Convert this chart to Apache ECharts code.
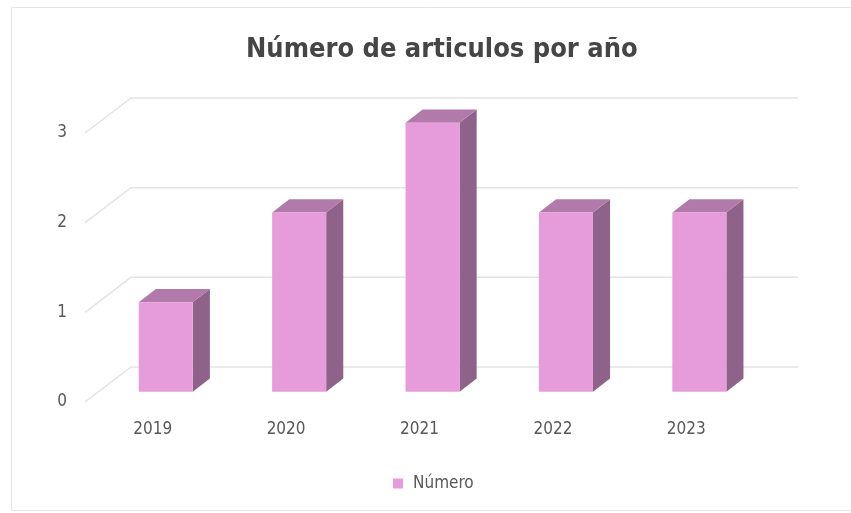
<!DOCTYPE html>
<html>
<head>
<meta charset="utf-8">
<script src="https://cdn.jsdelivr.net/npm/echarts@6/dist/echarts.min.js"></script>
<style>html,body{margin:0;padding:0;background:#fff}#c{width:851px;height:513px}</style>
</head>
<body>
<div id="c"></div>
<script>
const categories = ['2019', '2020', '2021', '2022', '2023'];
const values = [1, 2, 3, 2, 2];
const yTicks = [0, 1, 2, 3];
const seriesName = 'Número';

const DX = 45, DY = -35;          // depth of the 3D floor
const F1 = 0.29, F2 = 0.67;       // bar depth range (fraction of floor depth)
const BAR_W = 0.405;              // bar width as a fraction of band
const cFront = '#E69CDB', cTop = '#B27AAA', cSide = '#8E6289';
const FONT = 'DejaVu Sans Condensed, DejaVu Sans, Arial';

const chart = echarts.init(document.getElementById('c'));
chart.setOption({
  animation: false,
  backgroundColor: '#fff',
  graphic: [{
    type: 'rect', silent: true, z: -10,
    shape: { x: 11.5, y: 7.5, width: 860, height: 503 },
    style: { fill: 'none', stroke: '#e6e6e6', lineWidth: 1 }
  }],
  title: {
    text: 'Número de articulos por año',
    left: 246, top: 36, padding: 0,
    textStyle: { fontFamily: FONT, fontWeight: 'bold', fontSize: 27, color: '#454545' }
  },
  legend: {
    data: [seriesName], left: 388, top: 470, icon: 'rect', itemWidth: 10, itemHeight: 10, itemGap: 4,
    textStyle: { fontFamily: FONT, fontSize: 17, color: '#595959', padding: [0,0,0,5] }
  },
  grid: { left: 86, right: 98, top: 133, bottom: 111 },
  xAxis: {
    type: 'category', data: categories,
    axisLine: { show: false }, axisTick: { show: false }, splitLine: { show: false },
    axisLabel: { margin: 19, fontSize: 17, color: '#595959', fontFamily: FONT }
  },
  yAxis: {
    type: 'value', min: 0, max: 3, interval: 1,
    axisLine: { show: false }, axisTick: { show: false }, splitLine: { show: false },
    axisLabel: { margin: 19, fontSize: 17, color: '#595959', fontFamily: FONT }
  },
  series: [{
    type: 'custom', name: 'grid3d', silent: true, z: 1,
    data: yTicks.map(v => [0, v]),
    encode: { x: 0, y: 1 },
    renderItem: function (params, api) {
      const cs = params.coordSys;
      const y = api.coord([0, api.value(1)])[1];
      const l = cs.x, r = cs.x + cs.width;
      return {
        type: 'polyline',
        shape: { points: [[l - 1, y], [l + DX, y + DY], [r + DX, y + DY]] },
        style: { stroke: '#e3e3e3', lineWidth: 1.5, fill: null }
      };
    }
  }, {
    type: 'custom', name: seriesName, z: 2,
    itemStyle: { color: cFront },
    data: categories.map((c, i) => [i, values[i]]),
    encode: { x: 0, y: 1 },
    renderItem: function (params, api) {
      const i = api.value(0), v = api.value(1);
      const p0 = api.coord([i, 0]);
      const p1 = api.coord([i, v]);
      const bw = api.size([1, 0])[0] * BAR_W;
      const ox = DX * F1, oy = DY * F1;
      const dx = DX * (F2 - F1), dy = DY * (F2 - F1);
      const xl = p0[0] - bw / 2 + ox, xr = p0[0] + bw / 2 + ox;
      const yb = p0[1] + oy, yt = p1[1] + oy;
      return {
        type: 'group',
        children: [
          { type: 'polygon', shape: { points: [[xr, yb], [xr, yt], [xr + dx, yt + dy], [xr + dx, yb + dy]] }, style: { fill: cSide } },
          { type: 'polygon', shape: { points: [[xl, yt], [xr, yt], [xr + dx, yt + dy], [xl + dx, yt + dy]] }, style: { fill: cTop } },
          { type: 'rect', shape: { x: xl, y: yt, width: xr - xl, height: yb - yt }, style: { fill: cFront } }
        ]
      };
    }
  }]
});
</script>
</body>
</html>
